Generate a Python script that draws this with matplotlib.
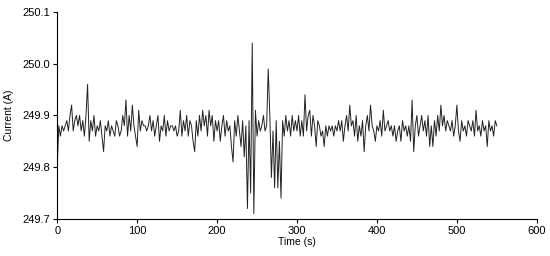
import numpy as np
from matplotlib import pyplot as plt

plt.rcParams['font.family'] = ['Liberation Sans', 'DejaVu Sans']

# current readings, one every 2 s from 0 to 550 s
current = [
    249.80, 249.88, 249.86, 249.88, 249.87, 249.88, 249.89, 249.87, 249.90, 249.92,
    249.87, 249.89, 249.90, 249.88, 249.90, 249.87, 249.89, 249.86, 249.90, 249.96,
    249.85, 249.89, 249.87, 249.90, 249.86, 249.88, 249.87, 249.89, 249.86, 249.83,
    249.88, 249.87, 249.89, 249.86, 249.88, 249.87, 249.86, 249.89, 249.88, 249.86,
    249.87, 249.90, 249.88, 249.93, 249.86, 249.90, 249.87, 249.92, 249.88, 249.86,
    249.84, 249.91, 249.87, 249.89, 249.88, 249.88, 249.87, 249.88, 249.90, 249.87,
    249.89, 249.86, 249.88, 249.90, 249.85, 249.88, 249.87, 249.90, 249.86, 249.89,
    249.87, 249.88, 249.88, 249.87, 249.88, 249.86, 249.87, 249.91, 249.86, 249.89,
    249.87, 249.90, 249.86, 249.89, 249.88, 249.85, 249.83, 249.89, 249.86, 249.90,
    249.87, 249.91, 249.88, 249.90, 249.86, 249.91, 249.88, 249.90, 249.85, 249.89,
    249.87, 249.89, 249.85, 249.88, 249.90, 249.86, 249.89, 249.87, 249.88, 249.84,
    249.81, 249.89, 249.86, 249.90, 249.87, 249.84, 249.89, 249.82, 249.88, 249.72,
    249.89, 249.75, 250.04, 249.71, 249.91, 249.86, 249.89, 249.87, 249.88, 249.90,
    249.87, 249.88, 249.99, 249.90, 249.78, 249.87, 249.76, 249.89, 249.76, 249.85,
    249.74, 249.89, 249.86, 249.90, 249.87, 249.89, 249.86, 249.90, 249.87, 249.89,
    249.87, 249.90, 249.86, 249.89, 249.86, 249.94, 249.87, 249.90, 249.91, 249.86,
    249.90, 249.88, 249.84, 249.89, 249.88, 249.86, 249.87, 249.84, 249.88, 249.86,
    249.88, 249.87, 249.88, 249.86, 249.88, 249.87, 249.89, 249.87, 249.89, 249.85,
    249.88, 249.90, 249.87, 249.92, 249.88, 249.89, 249.86, 249.90, 249.85, 249.88,
    249.86, 249.89, 249.83, 249.88, 249.90, 249.87, 249.92, 249.88, 249.87, 249.85,
    249.88, 249.87, 249.89, 249.86, 249.91, 249.87, 249.88, 249.89, 249.87, 249.88,
    249.86, 249.88, 249.85, 249.87, 249.88, 249.85, 249.89, 249.87, 249.88, 249.86,
    249.88, 249.85, 249.93, 249.83, 249.88, 249.90, 249.86, 249.88, 249.90, 249.87,
    249.89, 249.86, 249.90, 249.84, 249.88, 249.84, 249.89, 249.86, 249.90, 249.87,
    249.92, 249.88, 249.90, 249.87, 249.89, 249.88, 249.87, 249.89, 249.86, 249.88,
    249.92, 249.87, 249.85, 249.89, 249.87, 249.88, 249.86, 249.89, 249.88, 249.87,
    249.89, 249.86, 249.91, 249.87, 249.88, 249.86, 249.89, 249.87, 249.88, 249.84,
    249.89, 249.87, 249.88, 249.86, 249.89, 249.88,
]
time = np.arange(len(current)) * 2  # s

x_ticks = [0, 100, 200, 300, 400, 500, 600]
y_ticks = [249.7, 249.8, 249.9, 250.0, 250.1]

fig = plt.figure(figsize=(5.5, 2.56), dpi=100)
ax = fig.add_axes([0.104, 0.145, 0.872, 0.808])
ax.plot(time, current, color='#222222', lw=0.7)

ax.set_xlim(0, 600)
ax.set_ylim(249.7, 250.1)
ax.set_xticks(x_ticks)
ax.set_yticks(y_ticks)
ax.set_yticklabels(['%.1f' % v for v in y_ticks])
ax.set_xlabel('Time (s)', fontsize=7.5, labelpad=1)
ax.set_ylabel('Current (A)', fontsize=7.5, labelpad=6)
ax.tick_params(labelsize=8, length=3, width=0.8, pad=2)
ax.spines['top'].set_visible(False)
ax.spines['right'].set_visible(False)

plt.savefig('out.png', dpi=100)
